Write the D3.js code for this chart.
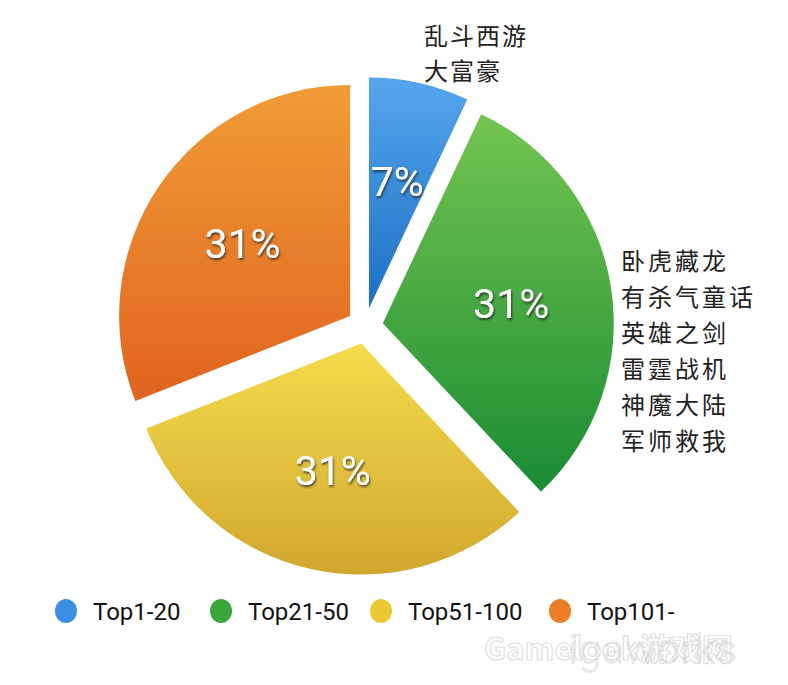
<!DOCTYPE html>
<html>
<head>
<meta charset="utf-8">
<script src="https://cdn.jsdelivr.net/npm/d3@7"></script>
<style>
  html, body { margin: 0; padding: 0; background: #fff; }
  svg { display: block; }
</style>
</head>
<body>
<svg id="chart" width="788" height="685"></svg>
<script>
// ---- data ----
const categories = ["Top1-20", "Top21-50", "Top51-100", "Top101-"];
const values = [7, 31, 31, 31];
const percentLabels = ["7%", "31%", "31%", "31%"];
const topGames = ["乱斗西游", "大富豪"];
const midGames = ["卧虎藏龙", "有杀气童话", "英雄之剑", "雷霆战机", "神魔大陆", "军师救我"];

// ---- styles ----
const gradTop = ["#55a6ec", "#74c451", "#f5dc4c", "#f09c36"];
const gradBot = ["#1d6fc4", "#1a8c33", "#d1a72f", "#e0631f"];
const legendColor = ["#3b8fe0", "#3aa63c", "#ebc935", "#ea7d26"];

const svg = d3.select("#chart");
const defs = svg.append("defs");

categories.forEach((c, i) => {
  const g = defs.append("linearGradient")
    .attr("id", "grad" + i)
    .attr("x1", 0).attr("y1", 0).attr("x2", 0).attr("y2", 1);
  g.append("stop").attr("offset", "0%").attr("stop-color", gradTop[i]);
  g.append("stop").attr("offset", "100%").attr("stop-color", gradBot[i]);
});

const f = defs.append("filter").attr("id", "shadow")
  .attr("x", "-20%").attr("y", "-20%").attr("width", "140%").attr("height", "160%");
f.append("feDropShadow").attr("dx", 1).attr("dy", 2).attr("stdDeviation", 1)
  .attr("flood-color", "#222").attr("flood-opacity", 0.75);

const cx = 365, cy = 326, R = 231, explode = 18;

const pie = d3.pie().sort(null).value(d => d);
const arcs = pie(values);
const arc = d3.arc().innerRadius(0).outerRadius(R);
const labelArc = d3.arc().innerRadius(130).outerRadius(130);

const root = svg.append("g").attr("transform", `translate(${cx},${cy})`);

const slices = root.selectAll("g.slice").data(arcs).enter().append("g")
  .attr("class", "slice")
  .attr("transform", d => {
    const m = (d.startAngle + d.endAngle) / 2;
    return `translate(${Math.sin(m) * explode},${-Math.cos(m) * explode})`;
  });

slices.append("path")
  .attr("d", arc)
  .attr("fill", (d, i) => `url(#grad${i})`);

slices.append("text")
  .attr("transform", d => `translate(${labelArc.centroid(d)})`)
  .attr("text-anchor", "middle")
  .attr("dy", "0.36em")
  .attr("font-family", "Roboto, 'Noto Sans', sans-serif")
  .attr("font-size", 41)
  .attr("fill", "#fff")
  .attr("filter", "url(#shadow)")
  .text((d, i) => percentLabels[i]);

// ---- game name annotations ----
const cjk = "'Noto Sans CJK SC', 'Noto Sans', sans-serif";
svg.append("g").selectAll("text").data(topGames).enter().append("text")
  .attr("x", 424)
  .attr("y", (d, i) => 45 + i * 35)
  .attr("font-family", cjk)
  .attr("font-size", 24)
  .attr("letter-spacing", 2)
  .attr("fill", "#222")
  .text(d => d);

svg.append("g").selectAll("text").data(midGames).enter().append("text")
  .attr("x", 621)
  .attr("y", (d, i) => 270 + i * 36)
  .attr("font-family", cjk)
  .attr("font-size", 24)
  .attr("letter-spacing", 3)
  .attr("fill", "#222")
  .text(d => d);

// ---- legend ----
const legendX = [66, 221, 381, 560];
const legend = svg.append("g").selectAll("g").data(categories).enter().append("g")
  .attr("transform", (d, i) => `translate(${legendX[i]},611)`);
legend.append("ellipse")
  .attr("rx", 11).attr("ry", 12)
  .attr("fill", (d, i) => legendColor[i]);
legend.append("text")
  .attr("x", 27)
  .attr("y", 9)
  .attr("font-family", "Roboto, 'Noto Sans', sans-serif")
  .attr("font-size", 24)
  .attr("fill", "#111")
  .text(d => d);

// ---- watermarks ----
svg.append("text")
  .attr("x", 484).attr("y", 660)
  .attr("font-family", "'Noto Sans CJK SC', sans-serif")
  .attr("font-weight", "bold")
  .attr("font-size", 31)
  .attr("fill", "#fff")
  .attr("stroke", "#e0e0e0")
  .attr("stroke-width", 1.2)
  .text("Gamelook游戏网");
svg.append("text")
  .attr("x", 568).attr("y", 664)
  .attr("font-family", "Roboto, sans-serif")
  .attr("font-size", 42)
  .attr("fill", "#d6d6d6")
  .attr("opacity", 0.5)
  .text("igaworks");
</script>
</body>
</html>
